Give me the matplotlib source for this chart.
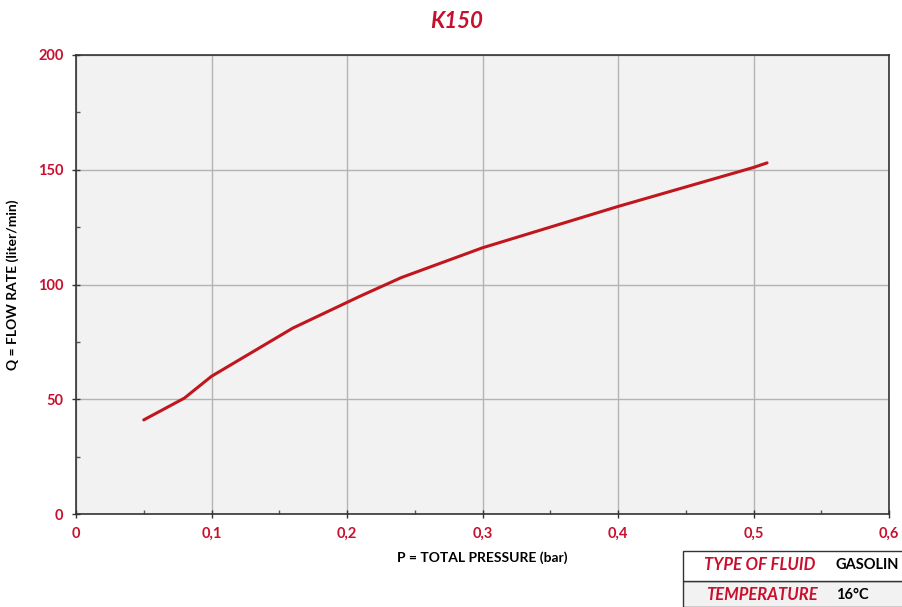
import numpy as np
import matplotlib.pyplot as plt
from matplotlib.patches import Rectangle

# curve
pressure_bar = [0.05, 0.08, 0.10, 0.16, 0.21, 0.24, 0.30, 0.40, 0.50, 0.51]
flow_lpm = [41, 50.5, 60, 81, 95, 103, 116, 134, 151, 153]

x_ticks = [0, 0.1, 0.2, 0.3, 0.4, 0.5, 0.6]
x_ticklabels = ["0", "0,1", "0,2", "0,3", "0,4", "0,5", "0,6"]
y_ticks = [0, 50, 100, 150, 200]

RED = "#c8102e"
LINE_RED = "#c0161e"
FONT = ["Lato", "DejaVu Sans"]

fig = plt.figure(figsize=(9.02, 6.07), dpi=100)
ax = fig.add_axes([76 / 902, 1 - 514 / 607, 813 / 902, 459 / 607])
ax.set_facecolor("#f2f2f2")

ax.plot(pressure_bar, flow_lpm, color=LINE_RED, lw=2.2, solid_capstyle="round", zorder=3)

ax.set_xlim(0, 0.6)
ax.set_ylim(0, 200)
ax.set_xticks(x_ticks)
ax.set_xticklabels(x_ticklabels)
ax.set_yticks(y_ticks)
ax.set_xticks(np.arange(0.05, 0.6, 0.1), minor=True)
ax.set_yticks(np.arange(25, 200, 50), minor=True)

ax.grid(True, which="major", color="#b4b4b4", lw=1.0, zorder=0)
ax.set_axisbelow(True)
for s in ax.spines.values():
    s.set_color("#333333")
    s.set_linewidth(1.2)

ax.tick_params(which="major", direction="inout", length=6, width=1, color="#333333", pad=6)
ax.tick_params(which="minor", direction="in", length=3, width=1, color="#555555")
for lab in ax.get_xticklabels() + ax.get_yticklabels():
    lab.set_color(RED)
    lab.set_fontweight("bold")
    lab.set_fontsize(10.5)
    lab.set_family(FONT)

ax.set_xlabel("P = TOTAL PRESSURE (bar)", fontsize=10, fontweight="bold", family=FONT, labelpad=8)
ax.set_ylabel("Q = FLOW RATE (liter/min)", fontsize=10, fontweight="bold", family=FONT, labelpad=14)

fig.text(457 / 902, 1 - 22 / 607, "K150", color=RED, fontsize=16, fontweight="bold",
         fontstyle="italic", family=FONT, ha="center", va="center")

# fluid info box, bottom right (cut by the figure edge)
W, H = 902, 607
fig.patches.append(Rectangle((683 / W, 0), 230 / W, 26 / H, transform=fig.transFigure,
                             facecolor="#f2f2f2", edgecolor="#333333", lw=1))
fig.patches.append(Rectangle((683 / W, 26 / H), 230 / W, 30 / H, transform=fig.transFigure,
                             facecolor="white", edgecolor="#333333", lw=1))
fig.text(704 / W, 1 - 565 / H, "TYPE OF FLUID", color=RED, fontsize=12, fontweight="bold",
         fontstyle="italic", family=FONT, va="center")
fig.text(835 / W, 1 - 565 / H, "GASOLIN", color="black", fontsize=10.5, fontweight="bold",
         family=FONT, va="center")
fig.text(706 / W, 1 - 595 / H, "TEMPERATURE", color=RED, fontsize=12, fontweight="bold",
         fontstyle="italic", family=FONT, va="center")
fig.text(836 / W, 1 - 595 / H, "16°C", color="black", fontsize=10.5, fontweight="bold",
         family=FONT, va="center")

fig.savefig("out.png", dpi=100)
